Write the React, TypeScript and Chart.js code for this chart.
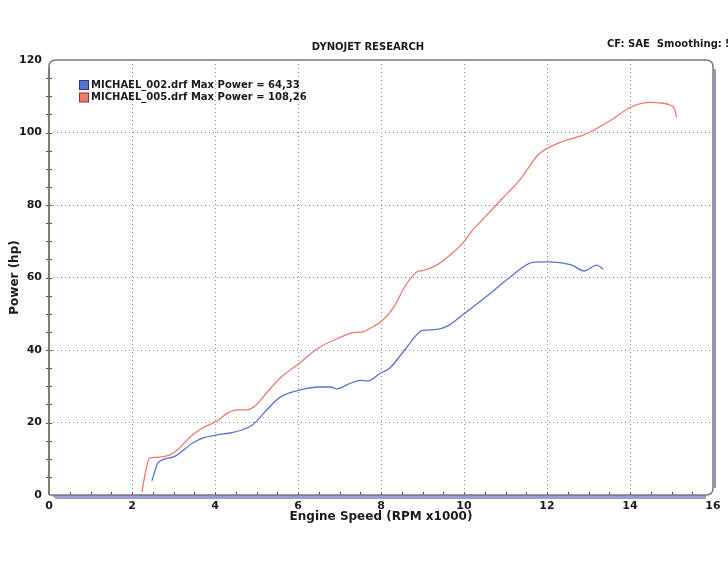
import React, { useEffect, useRef } from "react";
import { Chart, registerables } from "chart.js";

Chart.register(...registerables);

const chartTitle = "DYNOJET RESEARCH";
const cornerNote = "CF: SAE  Smoothing: 5";
const xTitle = "Engine Speed (RPM x1000)";
const yTitle = "Power (hp)";

const blueLabel = "MICHAEL_002.drf Max Power = 64,33";
const redLabel = "MICHAEL_005.drf Max Power = 108,26";

const blueRpm = [2.48, 2.55, 2.62, 3.0, 3.47, 3.7, 4.05, 4.36, 4.67, 4.9, 5.25, 5.57, 6.05, 6.53, 6.77, 6.94, 7.2, 7.5, 7.7, 7.98, 8.2, 8.6, 9.0, 9.3, 9.6, 9.98, 10.6, 11.1, 11.66, 12.0, 12.3, 12.6, 12.9, 13.2, 13.35];
const blueHp = [3.9, 6.5, 8.8, 10.5, 14.4, 15.7, 16.6, 17.1, 18, 19.3, 23.5, 27, 29, 29.8, 29.8, 29.3, 30.5, 31.6, 31.5, 33.6, 34.9, 40.4, 45.4, 45.6, 46.6, 49.8, 55.3, 60, 64.2, 64.3, 64.1, 63.4, 61.8, 63.4, 62.3];

const redRpm = [2.24, 2.32, 2.42, 2.6, 2.9, 3.1, 3.4, 3.7, 4.05, 4.3, 4.53, 4.77, 5.0, 5.2, 5.57, 6.05, 6.5, 7.0, 7.33, 7.57, 7.8, 8.0, 8.3, 8.6, 8.87, 9.0, 9.35, 9.73, 9.98, 10.2, 10.4, 10.9, 11.35, 11.8, 12.3, 12.9, 13.5, 14.0, 14.3, 14.5, 14.7, 14.96, 15.08, 15.12];
const redHp = [0.8, 6, 10.2, 10.4, 11, 12.5, 16, 18.5, 20.4, 22.6, 23.5, 23.5, 24.9, 27.6, 32.3, 36.5, 40.6, 43.4, 44.8, 45, 46.4, 47.8, 51.7, 58, 61.6, 61.9, 63.5, 66.8, 69.6, 73, 75.4, 81.5, 87, 94, 97.2, 99.4, 103.1, 106.9, 108.1, 108.3, 108.2, 107.6, 106.3, 104.2];

const xTicks = [0, 2, 4, 6, 8, 10, 12, 14, 16];
const yTicks = [0, 20, 40, 60, 80, 100, 120];

const FONT = "'DejaVu Sans', Verdana, sans-serif";
const BLUE = "#5b73cc";
const RED = "#ec7a70";

const decorPlugin = {
  id: "decor",
  beforeDatasetsDraw(chart: any) {
    const { ctx, chartArea } = chart;
    const { left, right, top, bottom } = chartArea;
    const xs = chart.scales.x;
    const ys = chart.scales.y;
    ctx.save();
    // minor ticks
    ctx.strokeStyle = "#555";
    ctx.lineWidth = 1;
    for (let v = 0.5; v < 16; v += 0.5) {
      const px = Math.round(xs.getPixelForValue(v)) + 0.5;
      ctx.beginPath();
      ctx.moveTo(px, bottom - 3);
      ctx.lineTo(px, bottom + 3);
      ctx.stroke();
    }
    for (let v = 5; v < 120; v += 5) {
      const py = Math.round(ys.getPixelForValue(v)) + 0.5;
      ctx.beginPath();
      ctx.moveTo(left - 3, py);
      ctx.lineTo(left + 3, py);
      ctx.stroke();
    }
    // frame
    const r = 7;
    ctx.strokeStyle = "#7a7a7a";
    ctx.lineWidth = 1.5;
    ctx.beginPath();
    ctx.moveTo(left, bottom);
    ctx.lineTo(left, top + r);
    ctx.quadraticCurveTo(left, top, left + r, top);
    ctx.lineTo(right - r, top);
    ctx.quadraticCurveTo(right, top, right, top + r);
    ctx.lineTo(right, bottom - r);
    ctx.quadraticCurveTo(right, bottom, right - r, bottom);
    ctx.lineTo(left, bottom);
    ctx.stroke();
    // left olive line
    ctx.strokeStyle = "#6e6e52";
    ctx.lineWidth = 1.2;
    ctx.beginPath();
    ctx.moveTo(left, top + r);
    ctx.lineTo(left, bottom);
    ctx.stroke();
    // right thick band
    ctx.strokeStyle = "#9393b3";
    ctx.lineWidth = 3;
    ctx.beginPath();
    ctx.moveTo(right + 1.5, top + r + 2);
    ctx.lineTo(right + 1.5, bottom - r);
    ctx.stroke();
    // bottom band
    ctx.fillStyle = "#9a9cd2";
    ctx.beginPath();
    ctx.moveTo(left + 2, bottom);
    ctx.lineTo(right - r, bottom);
    ctx.lineTo(right - r, bottom + 4);
    ctx.lineTo(left + 7, bottom + 4);
    ctx.closePath();
    ctx.fill();
    ctx.strokeStyle = "#7c7ca0";
    ctx.lineWidth = 1.2;
    ctx.beginPath();
    ctx.moveTo(left + 3, bottom + 0.5);
    ctx.lineTo(right - r, bottom + 0.5);
    ctx.stroke();
    ctx.restore();
  },
  afterDraw(chart: any) {
    const { ctx, chartArea } = chart;
    ctx.save();
    ctx.fillStyle = "#1a1a1a";
    ctx.font = `bold 10px ${FONT}`;
    ctx.textBaseline = "middle";
    ctx.textAlign = "center";
    ctx.fillText(chartTitle, 368, 47);
    ctx.textAlign = "left";
    ctx.fillText(cornerNote, 607, 44);
    // legend
    const items = [
      { label: blueLabel, fill: BLUE, stroke: "#2a3a80" },
      { label: redLabel, fill: RED, stroke: "#8a3030" },
    ];
    items.forEach((it, i) => {
      const cy = 85 + i * 12.5;
      ctx.fillStyle = it.fill;
      ctx.fillRect(chartArea.left + 30.5, cy - 4.5, 9, 9);
      ctx.strokeStyle = it.stroke;
      ctx.lineWidth = 1;
      ctx.strokeRect(chartArea.left + 30.5, cy - 4.5, 9, 9);
      ctx.fillStyle = "#1a1a1a";
      ctx.fillText(it.label, chartArea.left + 42, cy);
    });
    ctx.restore();
  },
};

export default function App() {
  const ref = useRef<HTMLCanvasElement | null>(null);
  useEffect(() => {
    if (!ref.current) return;
    const gridColor = (c: any) => {
      const v = c.tick ? c.tick.value : 0;
      if (c.scale.axis === "x") return v === 0 || v === 16 ? "rgba(0,0,0,0)" : "#8f8f8f";
      return v === 0 || v === 120 ? "rgba(0,0,0,0)" : "#8f8f8f";
    };
    const chart = new Chart(ref.current, {
      type: "line",
      data: {
        datasets: [
          {
            label: blueLabel,
            data: blueRpm.map((x, i) => ({ x, y: blueHp[i] })),
            borderColor: BLUE,
            borderWidth: 1.3,
            pointRadius: 0,
            cubicInterpolationMode: "monotone",
            fill: false,
          },
          {
            label: redLabel,
            data: redRpm.map((x, i) => ({ x, y: redHp[i] })),
            borderColor: RED,
            borderWidth: 1.3,
            pointRadius: 0,
            cubicInterpolationMode: "monotone",
            fill: false,
          },
        ],
      },
      options: {
        animation: false,
        responsive: true,
        maintainAspectRatio: false,
        layout: { padding: { top: 60, left: 0, right: 15, bottom: 0 } },
        plugins: { legend: { display: false }, title: { display: false }, tooltip: { enabled: false } },
        scales: {
          x: {
            type: "linear",
            min: 0,
            max: 16,
            afterFit: (s: any) => { s.height = 67; },
            afterBuildTicks: (s: any) => { s.ticks = xTicks.map((v) => ({ value: v })); },
            border: { display: false, dash: [1, 3] },
            grid: { color: gridColor, lineWidth: 1, drawTicks: false },
            ticks: { padding: 5, color: "#1a1a1a", font: { family: FONT, size: 11, weight: "bold" }, maxRotation: 0 },
            title: { display: true, text: xTitle, color: "#1a1a1a", font: { family: FONT, size: 12, weight: "bold" }, padding: { top: 0, bottom: 37.8 } },
          },
          y: {
            type: "linear",
            min: 0,
            max: 120,
            afterFit: (s: any) => { s.width = 49; },
            afterBuildTicks: (s: any) => { s.ticks = yTicks.map((v) => ({ value: v })); },
            border: { display: false, dash: [1, 3] },
            grid: { color: gridColor, lineWidth: 1, drawTicks: false },
            ticks: { padding: 7, color: "#1a1a1a", font: { family: FONT, size: 11, weight: "bold" } },
            title: { display: true, text: yTitle, color: "#1a1a1a", font: { family: FONT, size: 12, weight: "bold" }, padding: { top: 7.8, bottom: 0 } },
          },
        },
      },
      plugins: [decorPlugin],
    } as any);
    return () => chart.destroy();
  }, []);
  return (
    <div style={{ position: "fixed", left: 0, top: 0, width: 728, height: 562, background: "#fff" }}>
      <canvas ref={ref} />
    </div>
  );
}
